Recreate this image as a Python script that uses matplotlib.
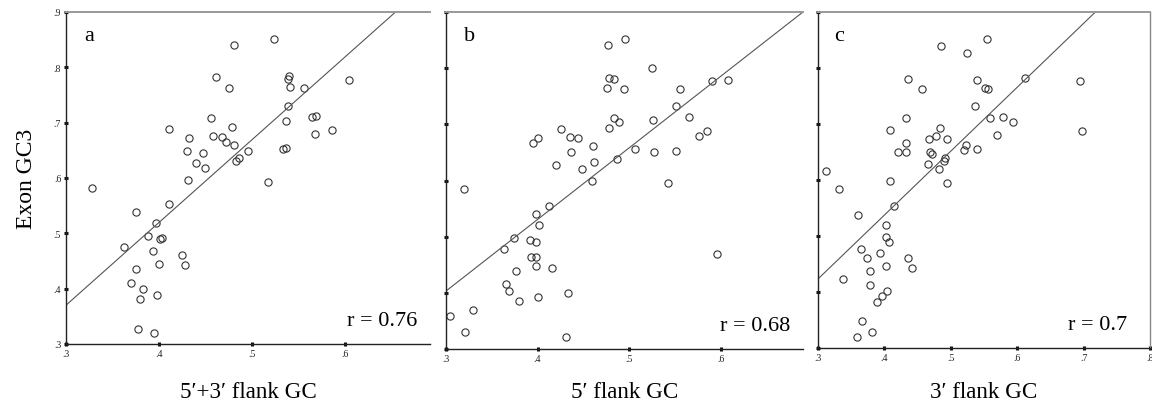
import matplotlib
matplotlib.use("Agg")
import matplotlib.pyplot as plt
import numpy as np

# ---- data ----
a_x = [0.328,0.375,0.362,0.388,0.397,0.393,0.401,0.403,0.400,0.375,0.370,0.383,0.380,0.398,0.377,0.394,
       0.425,0.428,0.411,0.411,0.431,0.430,0.432,0.440,0.447,0.449,0.456,0.458,0.461,0.468,0.472,0.480,
       0.475,0.478,0.480,0.483,0.486,0.495,0.517,0.523,0.533,0.536,0.536,0.538,0.538,0.540,0.541,0.556,
       0.564,0.569,0.567,0.586,0.604]
a_y = [0.582,0.538,0.475,0.496,0.518,0.468,0.490,0.491,0.445,0.436,0.411,0.399,0.381,0.389,0.327,0.319,
       0.460,0.442,0.553,0.689,0.597,0.648,0.673,0.627,0.645,0.618,0.709,0.676,0.782,0.674,0.665,0.840,
       0.763,0.693,0.659,0.630,0.636,0.648,0.592,0.852,0.653,0.655,0.703,0.731,0.779,0.784,0.764,0.763,
       0.710,0.712,0.679,0.687,0.778]

b_x = [0.304,0.321,0.329,0.320,0.431,0.433,0.363,0.374,0.377,0.365,0.369,0.380,0.401,0.392,0.398,0.393,
       0.398,0.398,0.398,0.402,0.416,0.412,0.395,0.400,0.420,0.426,0.435,0.444,0.437,0.449,0.461,0.462,
       0.459,0.477,0.495,0.478,0.484,0.476,0.494,0.478,0.484,0.489,0.487,0.506,0.525,0.526,0.527,0.543,
       0.551,0.551,0.556,0.566,0.576,0.585,0.591,0.608,0.596]
b_y = [0.359,0.330,0.369,0.585,0.322,0.400,0.478,0.498,0.438,0.416,0.403,0.385,0.393,0.494,0.490,0.463,
       0.463,0.448,0.541,0.520,0.445,0.554,0.667,0.675,0.628,0.691,0.678,0.675,0.650,0.621,0.661,0.633,
       0.600,0.841,0.852,0.783,0.781,0.765,0.763,0.694,0.712,0.704,0.639,0.656,0.801,0.708,0.650,0.595,
       0.653,0.732,0.763,0.713,0.680,0.688,0.777,0.779,0.470]

c_x = [0.312,0.331,0.338,0.360,0.359,0.366,0.381,0.365,0.374,0.379,0.379,0.389,0.397,0.404,0.393,0.402,
       0.403,0.407,0.402,0.409,0.409,0.415,0.435,0.442,0.421,0.432,0.433,0.432,0.436,0.457,0.466,0.467,
       0.469,0.471,0.477,0.483,0.482,0.485,0.490,0.491,0.495,0.495,0.520,0.523,0.524,0.537,0.540,0.540,
       0.551,0.556,0.555,0.559,0.569,0.579,0.594,0.611,0.694,0.698]
c_y = [0.616,0.584,0.423,0.538,0.320,0.348,0.328,0.477,0.461,0.437,0.413,0.383,0.392,0.401,0.469,0.519,
       0.498,0.489,0.447,0.598,0.690,0.553,0.461,0.443,0.650,0.650,0.666,0.710,0.781,0.763,0.628,0.674,
       0.650,0.646,0.678,0.693,0.620,0.840,0.634,0.640,0.674,0.594,0.654,0.662,0.827,0.732,0.656,0.779,
       0.764,0.763,0.852,0.711,0.680,0.713,0.703,0.783,0.777,0.687]

# fitted line: (slope, intercept)
fit_a = (1.497, -0.079)
fit_b = (1.274, 0.021)
fit_c = (1.141, 0.081)

panel_letters = ["a", "b", "c"]
r_labels = ["r = 0.76", "r = 0.68", "r = 0.7"]
x_titles = ["5\u2032+3\u2032 flank GC", "5\u2032 flank GC", "3\u2032 flank GC"]
y_title = "Exon GC3"
x_ticks_ab = [0.3, 0.4, 0.5, 0.6]
x_tick_labels_ab = [".3", ".4", ".5", ".6"]
x_ticks_c = [0.3, 0.4, 0.5, 0.6, 0.7, 0.8]
x_tick_labels_c = [".3", ".4", ".5", ".6", ".7", ".8"]
y_ticks = [0.3, 0.4, 0.5, 0.6, 0.7, 0.8, 0.9]
y_tick_labels = [".3", ".4", ".5", ".6", ".7", ".8", ".9"]

serif = ["Liberation Serif", "DejaVu Serif"]
plt.rcParams["font.family"] = serif

fig = plt.figure(figsize=(11.52, 4.10), dpi=100)

W, H = 1152, 410
def rect(l, r, t, b):
    return [l / W, (H - b) / H, (r - l) / W, (b - t) / H]

rects = [rect(66, 430, 13, 345), rect(446, 803, 13, 350), rect(818, 1150, 13, 349)]
xlims = [(0.3, 0.691), (0.3, 0.690), (0.3, 0.8)]
datasets = [(a_x, a_y, fit_a), (b_x, b_y, fit_b), (c_x, c_y, fit_c)]

for i, (rc, xl, (xs, ys, fit)) in enumerate(zip(rects, xlims, datasets)):
    ax = fig.add_axes(rc)
    ax.plot(xs, ys, linestyle="none", marker="o", markersize=5.2, markerfacecolor="none",
            markeredgecolor="#333333", markeredgewidth=0.8)
    lx = np.array([0.3, xl[1]])
    ax.plot(lx, fit[0] * lx + fit[1], color="#555555", linewidth=0.8)
    ax.set_xlim(*xl)
    ax.set_ylim(0.3, 0.9)
    if i < 2:
        ax.set_xticks(x_ticks_ab)
        ax.set_xticklabels(x_tick_labels_ab)
    else:
        ax.set_xticks(x_ticks_c)
        ax.set_xticklabels(x_tick_labels_c)
    ax.set_yticks(y_ticks)
    if i == 0:
        ax.set_yticklabels(y_tick_labels)
        ax.set_ylabel(y_title, fontsize=17, labelpad=12)
    else:
        ax.set_yticklabels([])
    ax.tick_params(axis="both", direction="inout", length=3, width=2.2, color="#111111",
                   labelsize=7, pad=2, labelcolor="#222222")
    for s in ["left", "bottom"]:
        ax.spines[s].set_color("#222222")
        ax.spines[s].set_linewidth(1.0)
    ax.spines["top"].set_color("#999999")
    ax.spines["top"].set_linewidth(1.4)
    if i < 2:
        ax.spines["right"].set_visible(False)
    else:
        ax.spines["right"].set_color("#888888")
        ax.spines["right"].set_linewidth(1.0)
    ax.text(0.05, 0.93, panel_letters[i], transform=ax.transAxes, fontsize=16, va="center", ha="left")
    ax.text(0.965 if i < 2 else 0.93, 0.07, r_labels[i], transform=ax.transAxes, fontsize=16,
            va="center", ha="right")
    cx = rc[0] + rc[2] / 2
    fig.text(cx, (H - 393) / H, x_titles[i], fontsize=16.6, ha="center", va="center")

fig.savefig("out.png", dpi=100)
